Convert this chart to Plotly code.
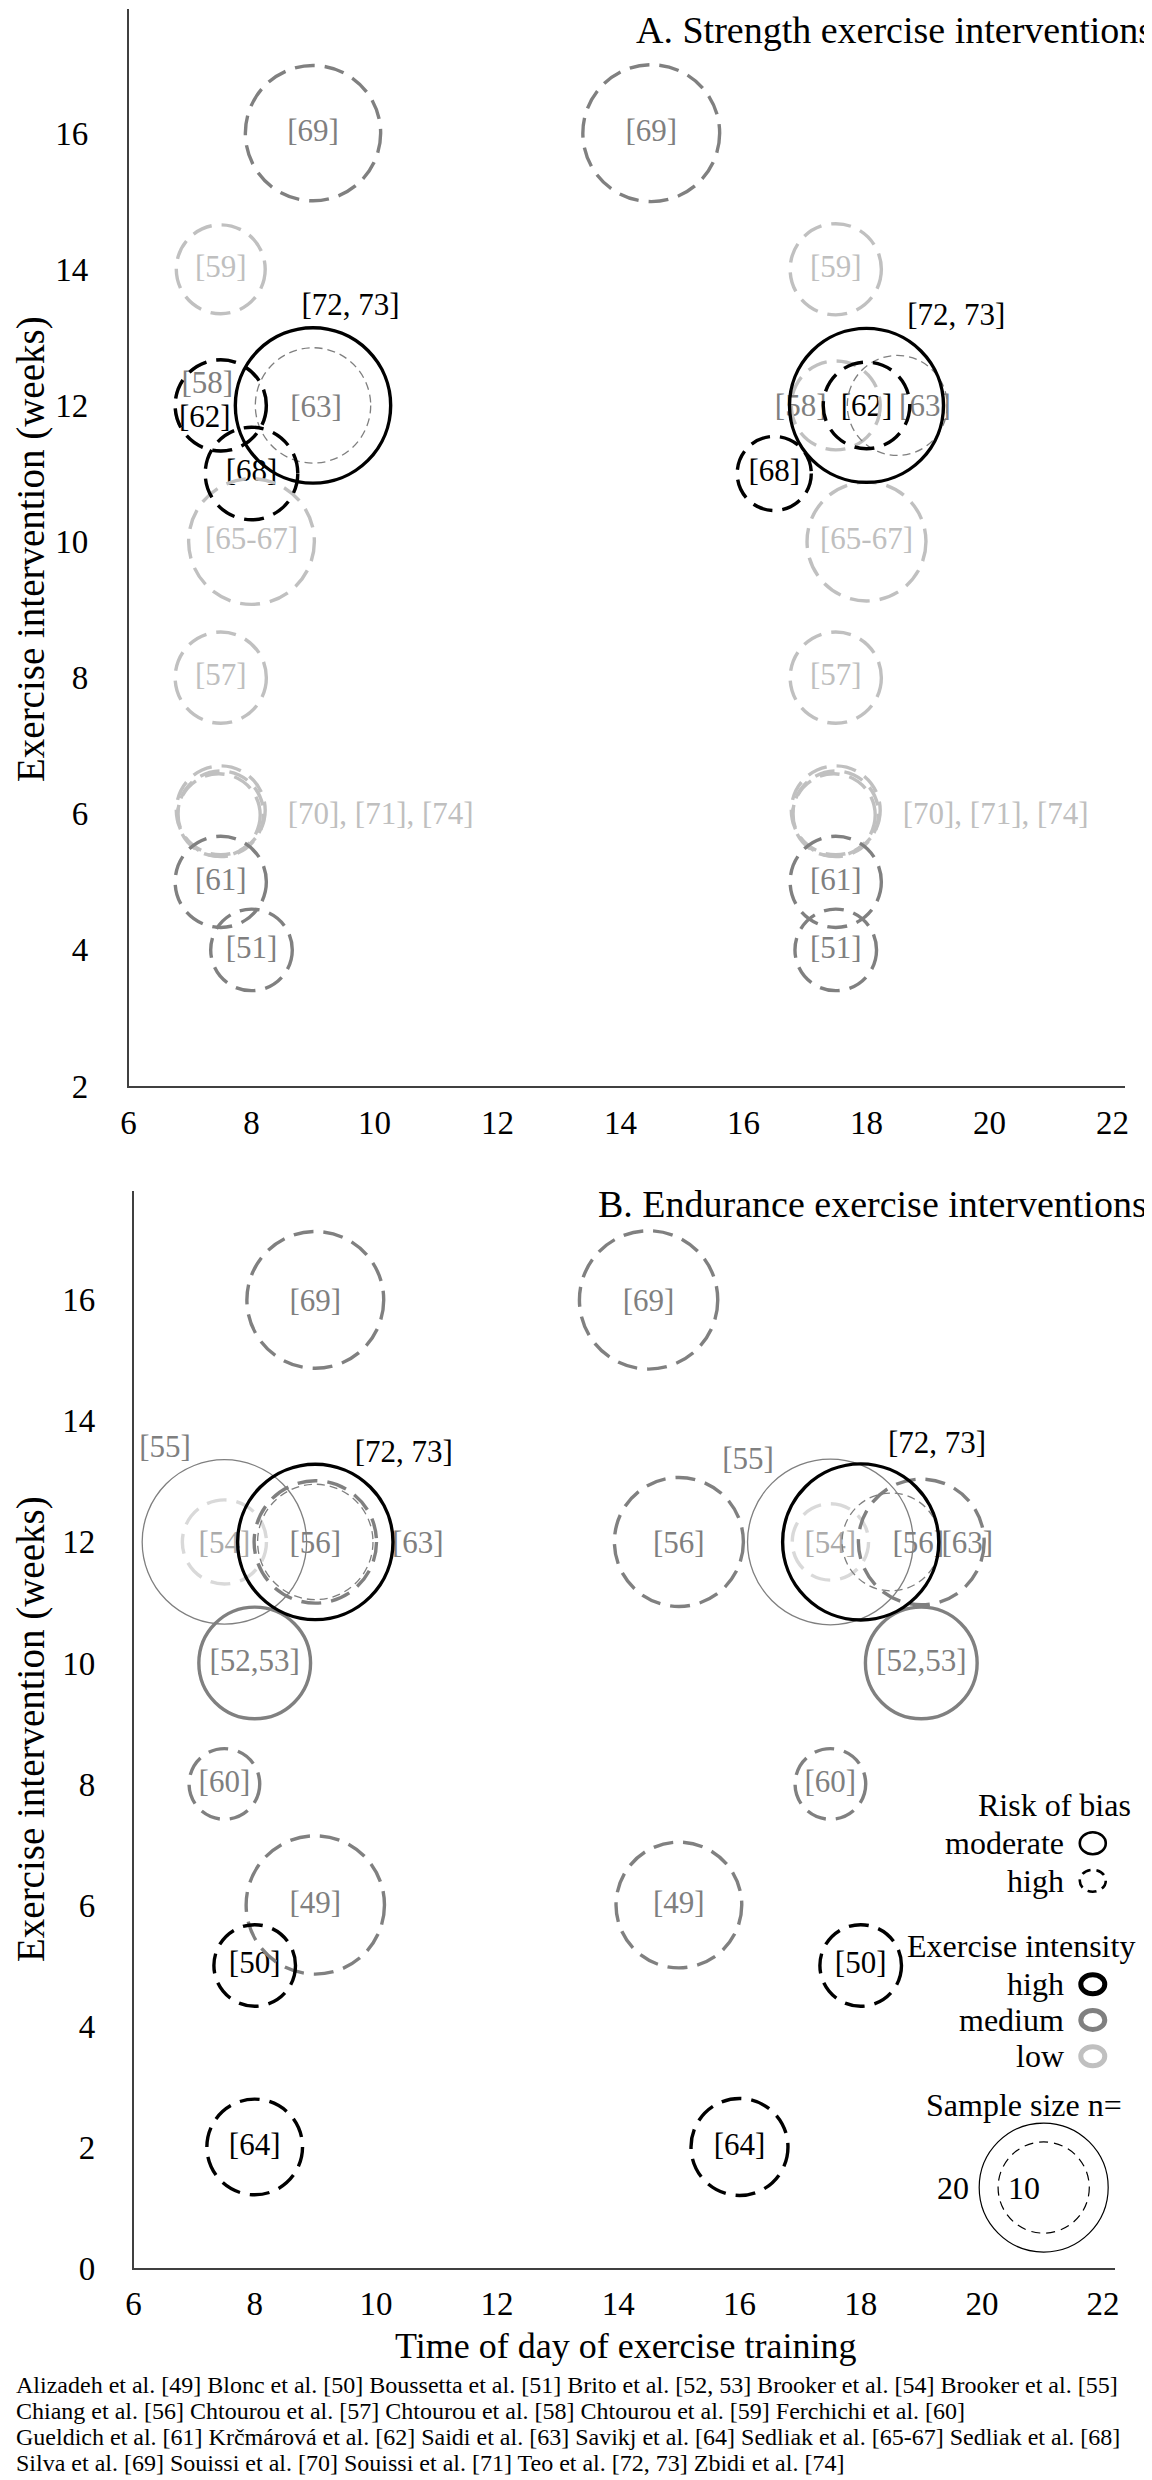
import math
import plotly.graph_objects as go

# ---------------- DATA ----------------
# A. Strength exercise interventions: circles
A_time = [9, 14.5, 7.5, 17.5, 7.5, 17.5, 9, 18.5, 8, 18, 7.5, 17.5,
          7.5, 7.5, 7.47, 17.5, 17.5, 17.47, 7.5, 17.5, 8, 17.5,
          7.5, 18, 9, 18, 8, 16.5]
A_weeks = [16, 16, 14, 14, 12, 12, 12, 12, 10, 10, 8, 8,
           6.05, 6, 5.98, 6.05, 6, 5.98, 5, 5, 4, 4,
           12, 12, 12, 12, 11, 11]
A_n = [22, 22.5, 9.5, 10, 10, 9.5, 16, 12, 19, 17, 10, 10,
       9.5, 8.8, 8.2, 9.5, 8.8, 8.2, 10, 10, 8, 8,
       10, 9, 29, 28.5, 10.3, 6.6]
A_intensity = ["medium", "medium", "low", "low", "low", "low", "unspecified", "unspecified",
               "low", "low", "low", "low",
               "low", "low", "low", "low", "low", "low", "medium", "medium", "medium", "medium",
               "high", "high", "high", "high", "high", "high"]
A_risk = ["high", "high", "high", "high", "high", "high", "high", "high",
          "high", "high", "high", "high",
          "high", "high", "high", "high", "high", "high", "high", "high", "high", "high",
          "high", "high", "moderate", "moderate", "high", "high"]

# A labels
A_lab = ["[69]", "[69]", "[59]", "[59]", "[58]", "[58]", "[62]", "[62]", "[63]", "[63]",
         "[72, 73]", "[72, 73]", "[68]", "[68]", "[65-67]", "[65-67]", "[57]", "[57]",
         "[70], [71], [74]", "[70], [71], [74]", "[61]", "[61]", "[51]", "[51]"]
A_lab_x = [9, 14.5, 7.5, 17.5, 7.28, 16.93, 7.24, 18, 9.05, 18.95,
           9.61, 19.46, 8, 16.5, 8, 18, 7.5, 17.5,
           10.1, 20.1, 7.5, 17.5, 8, 17.5]
A_lab_y = [16, 16, 14, 14, 12.29, 11.96, 11.79, 11.96, 11.95, 11.96,
           13.44, 13.30, 11, 11, 10, 10, 8, 8,
           5.96, 5.96, 5, 5, 4, 4]
A_lab_tone = ["medium", "medium", "low", "low", "medium", "medium", "high", "high", "unspecified", "unspecified",
              "high", "high", "high", "high", "low", "low", "low", "low",
              "low", "low", "medium", "medium", "medium", "medium"]

# B. Endurance exercise interventions: circles
B_time = [9, 14.5, 7.5, 17.5, 7.5, 17.5, 9, 15, 19, 9, 18.5, 8, 19, 7.5, 17.5, 9, 15,
          9, 18, 8, 18, 8, 16]
B_weeks = [16, 16, 12, 12, 12, 12, 12, 12, 12, 12, 12, 10, 10, 8, 8, 6, 6,
           12, 12, 5, 5, 2, 2]
B_n = [22.5, 23, 32.5, 33, 8.5, 7, 18, 20, 19, 16, 11.5, 15, 15, 6, 6, 23, 19,
       29, 29.3, 8, 8, 11, 11.3]
B_intensity = ["medium", "medium", "unspecified", "unspecified", "very low", "very low",
               "medium", "medium", "medium", "unspecified", "unspecified", "medium", "medium",
               "medium", "medium", "medium", "medium",
               "high", "high", "high", "high", "high", "high"]
B_risk = ["high", "high", "moderate", "moderate", "high", "high",
          "high", "high", "high", "high", "high", "moderate", "moderate",
          "high", "high", "high", "high",
          "moderate", "moderate", "high", "high", "high", "high"]

# B labels
B_lab = ["[69]", "[69]", "[55]", "[55]", "[54]", "[54]", "[56]", "[56]", "[56]", "[63]", "[63]",
         "[72, 73]", "[72, 73]", "[52,53]", "[52,53]", "[60]", "[60]", "[49]", "[49]",
         "[50]", "[50]", "[64]", "[64]"]
B_lab_x = [9, 14.5, 6.52, 16.14, 7.5, 17.5, 9, 15, 18.95, 10.69, 19.76,
           10.46, 19.26, 8, 19, 7.5, 17.5, 9, 15, 8, 18, 8, 16]
B_lab_y = [15.95, 15.95, 13.53, 13.34, 11.94, 11.94, 11.94, 11.94, 11.94, 11.94, 11.94,
           13.45, 13.6, 10, 10, 8, 8, 6, 6, 5, 5, 2, 2]
B_lab_tone = ["medium", "medium", "unspecified", "unspecified", "very low", "very low",
              "medium", "medium", "medium", "unspecified", "unspecified",
              "high", "high", "medium", "medium", "medium", "medium", "medium", "medium",
              "high", "high", "high", "high"]

x_ticks = [6, 8, 10, 12, 14, 16, 18, 20, 22]
A_y_ticks = [2, 4, 6, 8, 10, 12, 14, 16]
B_y_ticks = [0, 2, 4, 6, 8, 10, 12, 14, 16]

legend_n = [20, 10]

footer = [
    "Alizadeh et al. [49] Blonc et al. [50] Boussetta et al. [51] Brito et al. [52, 53] Brooker et al. [54] Brooker et al. [55]",
    "Chiang et al. [56] Chtourou et al. [57] Chtourou et al. [58] Chtourou et al. [59] Ferchichi et al. [60]",
    "Gueldich et al. [61] Krčmárová et al. [62] Saidi et al. [63] Savikj et al. [64] Sedliak et al. [65-67] Sedliak et al. [68]",
    "Silva et al. [69] Souissi et al. [70] Souissi et al. [71] Teo et al. [72, 73] Zbidi et al. [74]",
]

# ---------------- STYLE ----------------
FONT = "Liberation Serif"
LINE_COL = {"high": "#000000", "medium": "#808080", "low": "#c0c0c0",
            "very low": "#d9d9d9", "unspecified": "#7f7f7f"}
LAB_COL = {"high": "#000000", "medium": "#7f7f7f", "low": "#bfbfbf",
           "very low": "#ababab", "unspecified": "#7f7f7f"}
R20 = 64.5  # pixel radius for sample size n=20 (area proportional)
W, H = 1152, 2480


def radius(n):
    return R20 * math.sqrt(n / 20.0)


def circle_shape(xref, yref, x, y, rx, ry, color, width, dash):
    return dict(type="circle", xref=xref, yref=yref, xsizemode="pixel", ysizemode="pixel",
                xanchor=x, yanchor=y, x0=-rx, x1=rx, y0=-ry, y1=ry,
                line=dict(color=color, width=width, dash=dash), layer="above")


def bubble_shapes(xref, yref, xs, ys, ns, ints, risks):
    out = []
    for x, y, n, it, rk in zip(xs, ys, ns, ints, risks):
        thin = it == "unspecified"
        width = 1.3 if thin else 3.4
        if rk == "moderate":
            dash = "solid"
        else:
            dash = "8px,5px" if thin else "20px,10px"
        r = radius(n)
        out.append(circle_shape(xref, yref, x, y, r, r, LINE_COL[it], width, dash))
    return out


shapes = []
shapes += bubble_shapes("x", "y", A_time, A_weeks, A_n, A_intensity, A_risk)
shapes += bubble_shapes("x2", "y2", B_time, B_weeks, B_n, B_intensity, B_risk)

fig = go.Figure()


def label_trace(xs, ys, texts, tones, xa, ya):
    return go.Scatter(x=xs, y=ys, text=texts, mode="text", xaxis=xa, yaxis=ya,
                      textposition="middle center",
                      textfont=dict(family=FONT, size=31, color=[LAB_COL[t] for t in tones]),
                      cliponaxis=False, hoverinfo="skip", showlegend=False)


fig.add_trace(label_trace(A_lab_x, A_lab_y, A_lab, A_lab_tone, "x", "y"))
fig.add_trace(label_trace(B_lab_x, B_lab_y, B_lab, B_lab_tone, "x2", "y2"))

# ---------------- LEGEND (bottom panel) ----------------
ann = []


def ptxt(text, px, py, size=32, xanchor="right", angle=0, yanchor="middle"):
    ann.append(dict(x=px / W, y=1 - py / H, xref="paper", yref="paper", text=text,
                    showarrow=False, xanchor=xanchor, yanchor=yanchor, textangle=angle,
                    borderpad=0,
                    font=dict(family=FONT, size=size, color="#000000")))


ptxt("Risk of bias", 1124, 1797)
ptxt("moderate", 1057, 1835)
ptxt("high", 1057, 1873)
shapes.append(circle_shape("x2", "y2", 21.83, 7.02, 13, 11, "#000000", 2.6, "solid"))
shapes.append(circle_shape("x2", "y2", 21.83, 6.40, 13, 11, "#000000", 2.6, "9px,6px"))
ptxt("Exercise intensity", 1128, 1938)
for lab, py, yy, key in [("high", 1976, 4.69, "high"), ("medium", 2012, 4.10, "medium"),
                         ("low", 2048, 3.50, "low")]:
    ptxt(lab, 1057, py)
    shapes.append(circle_shape("x2", "y2", 21.83, yy, 12, 9.5, LINE_COL[key], 5, "solid"))
ptxt("Sample size n=", 1016, 2097, xanchor="center")
shapes.append(circle_shape("x2", "y2", 21.02, 1.33, radius(legend_n[0]), radius(legend_n[0]),
                           "#000000", 1.2, "solid"))
shapes.append(circle_shape("x2", "y2", 21.02, 1.33, radius(legend_n[1]), radius(legend_n[1]),
                           "#000000", 1.2, "9px,6px"))
ptxt(str(legend_n[0]), 945, 2180, xanchor="center")
ptxt(str(legend_n[1]), 1016, 2180, xanchor="center")

# ---------------- TITLES ----------------
ptxt("A. Strength exercise interventions", 1146, 0, 38, yanchor="top")
ptxt("B. Endurance exercise interventions", 1140, 1196, 38)
ptxt("Exercise intervention (weeks)", 23, 541, 39, xanchor="center", angle=-90)
ptxt("Exercise intervention (weeks)", 23, 1721, 39, xanchor="center", angle=-90)
ptxt("Time of day of exercise training", 618, 2338, 36, xanchor="center")
for line, py in zip(footer, [2377, 2403, 2429, 2455]):
    ptxt(line, 7, py, 24, xanchor="left")

axis_common = dict(showline=True, linecolor="#404040", linewidth=1.5, showgrid=False,
                   zeroline=False, ticks="", automargin=False,
                   tickfont=dict(family=FONT, size=33, color="#000000"))

fig.update_layout(
    width=W, height=H, margin=dict(l=0, r=0, t=0, b=0, pad=0, autoexpand=False),
    paper_bgcolor="white", plot_bgcolor="white", showlegend=False,
    font=dict(family=FONT),
    xaxis=dict(domain=[120.5 / W, 1116.8 / W], range=[6, 22.2], tickvals=x_ticks,
               anchor="y", ticklabelstandoff=7, **axis_common),
    yaxis=dict(domain=[1 - 1078 / H, 1 - 1.3 / H], range=[2, 17.82], tickvals=A_y_ticks,
               anchor="x", ticklabelstandoff=32, **axis_common),
    xaxis2=dict(domain=[125.5 / W, 1107.2 / W], range=[6, 22.2], tickvals=x_ticks,
                anchor="y2", ticklabelstandoff=6, **axis_common),
    yaxis2=dict(domain=[1 - 2260 / H, 1 - 1183 / H], range=[0, 17.8], tickvals=B_y_ticks,
                anchor="x2", ticklabelstandoff=30, **axis_common),
    shapes=shapes, annotations=ann,
)

fig.write_html("out.html")
